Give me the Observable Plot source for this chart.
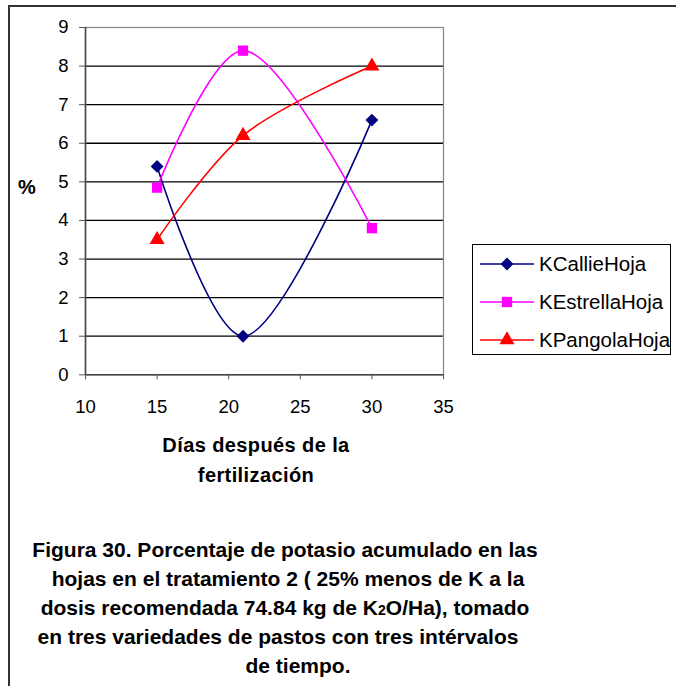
<!DOCTYPE html>
<html>
<head>
<meta charset="utf-8">
<script src="https://cdn.jsdelivr.net/npm/d3@7"></script>
<script src="https://cdn.jsdelivr.net/npm/@observablehq/plot@0.6"></script>
<style>
  html, body { margin: 0; padding: 0; background: #fff; }
  #fig { position: relative; width: 676px; height: 686px; overflow: hidden; background: #fff;
         font-family: "Liberation Sans", Arial, sans-serif; color: #000; }
  #border { position: absolute; left: 8px; top: 5px; width: 700px; height: 700px;
            border-top: 2px solid #333; border-left: 2px solid #333; }
  #chart { position: absolute; left: 0; top: 0; }
  #ylabel { position: absolute; left: 18px; top: 176px; font-weight: bold; font-size: 20px; }
  .xl { position: absolute; left: 56px; width: 400px; text-align: center; white-space: nowrap;
        font-weight: bold; font-size: 20px; line-height: 30px; letter-spacing: 0.4px; }
  #legend { position: absolute; left: 472px; top: 244px; width: 199px; height: 111px;
            border: 1px solid #000; box-sizing: border-box; }
  .cap { position: absolute; width: 600px; text-align: center; white-space: nowrap;
         font-weight: bold; font-size: 21px; line-height: 29px; }
</style>
</head>
<body>
<div id="fig">
  <div id="border"></div>
  <div id="chart"></div>
  <div id="ylabel">%</div>
  <div class="xl" style="top:430px">Días después de la</div>
  <div class="xl" style="top:460px">fertilización</div>
  <svg id="legend" width="199" height="111"></svg>
  <div class="cap" style="top:535px; left:-15px">Figura 30. Porcentaje de potasio acumulado en las</div>
  <div class="cap" style="top:564px; left:-12px">hojas en el tratamiento 2 ( 25% menos de K a la</div>
  <div class="cap" style="top:593px; left:-15px">dosis recomendada 74.84 kg de K<span style="font-size:14px">2</span>O/Ha), tomado</div>
  <div class="cap" style="top:622px; left:-22px">en tres variedades de pastos con tres intérvalos</div>
  <div class="cap" style="top:651px; left:-2px">de tiempo.</div>
</div>
<script>
// Days after fertilization and accumulated leaf potassium (%) per grass variety
const days = [15, 21, 30];
const kCallie = [5.4, 1.0, 6.6];
const kEstrella = [4.85, 8.4, 3.8];
const kPangola = [3.5, 6.2, 8.0];

const seriesNames = ["KCallieHoja", "KEstrellaHoja", "KPangolaHoja"];
const seriesValues = [kCallie, kEstrella, kPangola];
const seriesColors = ["#000080", "#ff00ff", "#ff0000"];
const seriesSymbols = ["diamond2", "square", "triangle"];
const seriesR = [5.8, 5.8, 5.6];

const xTicks = [10, 15, 20, 25, 30, 35];
const yTicks = [0, 1, 2, 3, 4, 5, 6, 7, 8, 9];
const gridLines = [1, 2, 3, 4, 5, 6, 7, 8];

const rows = seriesNames.flatMap((name, i) =>
  days.map((d, j) => ({series: name, day: d, value: seriesValues[i][j]}))
);

const seriesMarks = seriesNames.flatMap((name, i) => {
  const data = rows.filter(r => r.series === name);
  return [
    Plot.line(data, {x: "day", y: "value", stroke: seriesColors[i], strokeWidth: 1.6, curve: "catmull-rom"}),
    Plot.dot(data, {x: "day", y: "value", symbol: () => seriesSymbols[i], fill: seriesColors[i],
                    stroke: "none", r: seriesR[i]})
  ];
});

const chart = Plot.plot({
  width: 676,
  height: 410,
  marginLeft: 85,
  marginRight: 233,
  marginTop: 27,
  marginBottom: 35.7,
  style: {fontFamily: "'Liberation Sans', Arial, sans-serif", background: "transparent", overflow: "visible"},
  x: {domain: [10, 35]},
  y: {domain: [0, 9]},
  symbol: {type: "identity"},
  marks: [
    Plot.ruleY(gridLines, {stroke: "#000", strokeWidth: 1.3}),
    Plot.frame({stroke: "#8a8a8a", strokeWidth: 1.3}),
    Plot.ruleX([10], {stroke: "#444", strokeWidth: 1.5}),
    Plot.ruleY([0], {stroke: "#444", strokeWidth: 1.5}),
    Plot.axisX({ticks: xTicks, tickSize: 5, tickPadding: 20, label: null, stroke: "#555",
                fill: "#000", fontSize: 18.5, tickFormat: d => String(d)}),
    Plot.axisY({ticks: yTicks, tickSize: 6, tickPadding: 11, label: null, stroke: "#555",
                fill: "#000", fontSize: 18.5, tickFormat: d => String(d)}),
    ...seriesMarks
  ]
});
document.getElementById("chart").appendChild(chart);

// Legend entries with the same line colours and marker symbols
const legend = d3.select("#legend");
const symbolTypes = {diamond2: d3.symbolDiamond2, square: d3.symbolSquare, triangle: d3.symbolTriangle};
seriesNames.forEach((name, i) => {
  const cy = 19 + i * 38;
  const g = legend.append("g").attr("transform", `translate(0,${cy})`);
  g.append("line").attr("x1", 7).attr("x2", 61).attr("y1", 0).attr("y2", 0)
    .attr("stroke", seriesColors[i]).attr("stroke-width", 1.6);
  g.append("path").attr("transform", "translate(34,0)")
    .attr("d", d3.symbol(symbolTypes[seriesSymbols[i]], Math.PI * seriesR[i] * seriesR[i])())
    .attr("fill", seriesColors[i]);
  g.append("text").attr("x", 66).attr("y", 0).attr("dy", "0.36em")
    .attr("font-family", "'Liberation Sans', Arial, sans-serif").attr("font-size", 20.5)
    .text(name);
});
</script>
</body>
</html>
